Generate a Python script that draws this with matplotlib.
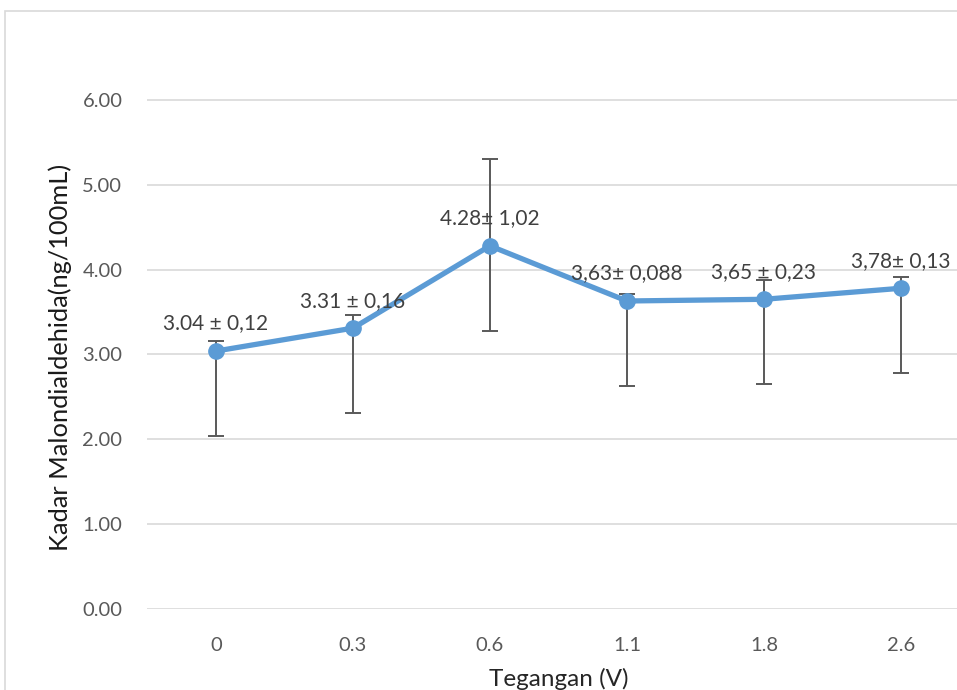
import numpy as np
import matplotlib.pyplot as plt
from matplotlib.patches import Rectangle

# data
voltages = ["0", "0.3", "0.6", "1.1", "1.8", "2.6"]
mda = [3.04, 3.31, 4.28, 3.63, 3.65, 3.78]
err_up = [0.12, 0.16, 1.02, 0.088, 0.23, 0.13]
err_down = [1.0, 1.0, 1.0, 1.0, 1.0, 1.0]
point_labels = ["3.04 ± 0,12", "3.31 ± 0,16", "4.28± 1,02",
                "3,63± 0,088", "3,65 ± 0,23", "3,78± 0,13"]

plt.rcParams['font.family'] = ['Lato', 'DejaVu Sans']

fig = plt.figure(figsize=(9.57, 6.9), dpi=100)
ax = fig.add_axes([0.154, 0.1174, 0.859, 0.8116])

# chart border (cropped at right and bottom)
fig.patches.append(Rectangle((5 / 957, -0.1), 1.1, 1 - 11 / 690 + 0.1,
                             transform=fig.transFigure, fill=False,
                             edgecolor='#d9d9d9', linewidth=1.2))

x = np.arange(len(voltages))
ax.errorbar(x, mda, yerr=[err_down, err_up], fmt='none', ecolor='#595959',
            elinewidth=1.4, capsize=6, capthick=1.4, zorder=2)
ax.plot(x, mda, color='#5b9bd5', linewidth=3.8, marker='o', markersize=11,
        zorder=3)

for xi, yi, lab in zip(x, mda, point_labels):
    ax.annotate(lab, (xi, yi), xytext=(0, 15.5), textcoords='offset points',
                ha='center', va='baseline', fontsize=15, color='#404040')

ax.set_xlim(-0.5, len(voltages) - 0.5)
ax.set_ylim(0, 6.6)
ax.set_yticks(np.arange(0, 7, 1))
ax.set_yticklabels([f"{v:.2f}" for v in np.arange(0, 7, 1)])
ax.set_xticks(x)
ax.set_xticklabels(voltages)

ax.grid(axis='y', color='#d9d9d9', linewidth=1.2)
ax.set_axisbelow(True)
for s in ax.spines.values():
    s.set_visible(False)
ax.tick_params(length=0, labelsize=14.5, labelcolor='#595959')
ax.tick_params(axis='x', pad=20)
ax.tick_params(axis='y', pad=18)

ax.set_xlabel("Tegangan (V)", fontsize=17.5, color='#262626', labelpad=10)
ax.set_ylabel("Kadar Malondialdehida(ng/100mL)", fontsize=18.3, color='#1a1a1a',
              va='center', ha='center')
ax.yaxis.set_label_coords(-0.106, 0.45)

fig.savefig("out.png", dpi=100)
